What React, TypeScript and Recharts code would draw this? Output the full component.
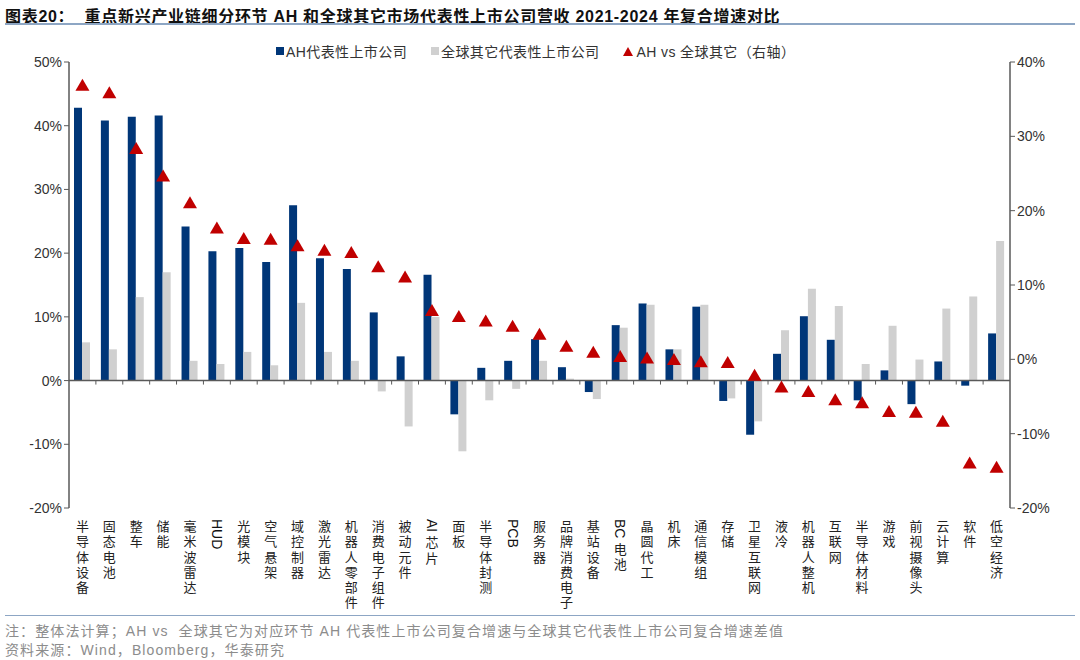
import {
  Bar,
  ComposedChart,
  ReferenceLine,
  Scatter,
  XAxis,
  YAxis,
} from "recharts";

const categories = [
  "半导体设备", "固态电池", "整车", "储能", "毫米波雷达", "HUD", "光模块", "空气悬架",
  "域控制器", "激光雷达", "机器人零部件", "消费电子组件", "被动元件", "AI芯片", "面板",
  "半导体封测", "PCB", "服务器", "品牌消费电子", "基站设备", "BC电池", "晶圆代工", "机床",
  "通信模组", "存储", "卫星互联网", "液冷", "机器人整机", "互联网", "半导体材料", "游戏",
  "前视摄像头", "云计算", "软件", "低空经济",
];

// AH 代表性上市公司 2021-2024 营收复合增速 (%)
const ahGrowth = [
  42.8, 40.8, 41.4, 41.6, 24.2, 20.3, 20.8, 18.6, 27.5, 19.2, 17.5, 10.7, 3.8, 16.6, -5.3,
  2.0, 3.1, 6.5, 2.1, -1.8, 8.7, 12.1, 4.9, 11.6, -3.2, -8.5, 4.2, 10.1, 6.4, -3.1, 1.6,
  -3.7, 3.0, -0.8, 7.4,
];

// 全球其它代表性上市公司 (%)
const globalGrowth = [
  6.0, 4.9, 13.1, 17.0, 3.1, 2.6, 4.5, 2.4, 12.2, 4.5, 3.1, -1.7, -7.2, 10.0, -11.1,
  -3.1, -1.3, 3.1, 0.3, -2.9, 8.3, 11.9, 4.9, 11.9, -2.8, -6.4, 7.9, 14.4, 11.7, 2.6, 8.6,
  3.3, 11.3, 13.2, 21.9,
];

// AH vs 全球其它 (右轴, %)
const gap = [
  36.8, 35.8, 28.3, 24.6, 21.0, 17.6, 16.2, 16.1, 15.2, 14.6, 14.3, 12.4, 11.0, 6.5, 5.7,
  5.1, 4.4, 3.3, 1.7, 0.9, 0.3, 0.1, -0.1, -0.4, -0.5, -2.2, -3.8, -4.4, -5.5, -5.9, -7.1,
  -7.2, -8.4, -14.0, -14.6,
];

const leftTicks = [-20, -10, 0, 10, 20, 30, 40, 50];
const rightTicks = [-20, -10, 0, 10, 20, 30, 40];

const data = categories.map((name, i) => ({
  name,
  ah: ahGrowth[i],
  global: globalGrowth[i],
  gap: gap[i],
}));

const NAVY = "#003678";
const GRAY = "#D0D0D0";
const RED = "#C00000";
const AXIS = "#595959";
const latin = "'Liberation Sans', Arial, 'Noto Sans CJK SC', sans-serif";
const cjk = "'Noto Sans CJK SC', 'Liberation Sans', sans-serif";

const LATIN_FONT = "14px 'Liberation Sans'";
const CHAR_STEP = 15.2;

let ctx: CanvasRenderingContext2D | null = null;
function latinWidth(s: string) {
  if (!ctx) ctx = document.createElement("canvas").getContext("2d");
  if (!ctx) return s.length * 9;
  ctx.font = LATIN_FONT;
  return ctx.measureText(s).width;
}

// vertical label: CJK stacked one per line, latin runs turned sideways
function CategoryTick({ x, y, payload }: any) {
  const parts: string[] = payload.value.match(/[A-Za-z0-9]+|./g) || [];
  let cur = y + 2;
  const out: any[] = [];
  parts.forEach((p, i) => {
    if (/^[A-Za-z0-9]+$/.test(p)) {
      out.push(
        <text
          key={i}
          x={0}
          y={0}
          transform={`translate(${x},${cur + 1}) rotate(90)`}
          dominantBaseline="central"
          fontSize={14}
          fontFamily={latin}
          fill="#111"
        >
          {p}
        </text>
      );
      cur += latinWidth(p) + 3;
    } else {
      out.push(
        <text
          key={i}
          x={x}
          y={cur + CHAR_STEP / 2}
          textAnchor="middle"
          dominantBaseline="central"
          fontSize={13}
          fontFamily={cjk}
          fill="#222"
        >
          {p}
        </text>
      );
      cur += CHAR_STEP;
    }
  });
  return <g>{out}</g>;
}

function Triangle({ cx, cy }: any) {
  if (cx == null || cy == null) return null;
  return (
    <polygon
      points={`${cx},${cy - 7} ${cx - 7},${cy + 5} ${cx + 7},${cy + 5}`}
      fill={RED}
    />
  );
}

// zero line of the left axis with the category separators hanging from it
function ZeroAxis({ x1, x2, y1 }: any) {
  const step = (x2 - x1) / categories.length;
  return (
    <g>
      <line x1={x1} x2={x2} y1={y1} y2={y1} stroke={AXIS} strokeWidth={1.5} />
      {categories.slice(1).map((_, i) => (
        <line
          key={i}
          x1={x1 + step * (i + 1)}
          x2={x1 + step * (i + 1)}
          y1={y1}
          y2={y1 + 4}
          stroke={AXIS}
          strokeWidth={1}
        />
      ))}
    </g>
  );
}

export default function App() {
  return (
    <div style={{ position: "relative", width: 1080, height: 660, background: "#fff" }}>
      <style>{`body{margin:0}`}</style>
      <div
        style={{
          position: "absolute",
          left: 5,
          top: 3,
          fontFamily: latin,
          fontWeight: 700,
          fontSize: 16,
          letterSpacing: 0.7,
          color: "#111",
          whiteSpace: "pre",
        }}
      >
        {"图表20：  重点新兴产业链细分环节 AH 和全球其它市场代表性上市公司营收 2021-2024 年复合增速对比"}
      </div>
      <div
        style={{
          position: "absolute",
          left: 5,
          top: 23,
          width: 1070,
          height: 2,
          background: "#8DA6C4",
        }}
      />

      <div
        style={{
          position: "absolute",
          top: 41,
          left: 276,
          display: "flex",
          gap: 24,
          fontSize: 14,
          letterSpacing: 0.4,
          fontFamily: latin,
          color: "#333",
        }}
      >
        <span style={{ display: "flex", alignItems: "center" }}>
          <span style={{ width: 8, height: 8, background: NAVY, marginRight: 2 }} />
          AH代表性上市公司
        </span>
        <span style={{ display: "flex", alignItems: "center" }}>
          <span style={{ width: 8, height: 8, background: GRAY, marginRight: 2 }} />
          全球其它代表性上市公司
        </span>
        <span style={{ display: "flex", alignItems: "center" }}>
          <svg width={10} height={9} style={{ marginRight: 3 }}>
            <polygon points="5,0 0,9 10,9" fill={RED} />
          </svg>
          {"AH vs 全球其它（右轴）"}
        </span>
      </div>

      <div style={{ position: "absolute", left: 0, top: 0 }}>
        <ComposedChart
          width={1080}
          height={610}
          data={data}
          margin={{ top: 62, right: 8, bottom: 0, left: 8 }}
          barGap={0}
        >
          <XAxis
            dataKey="name"
            interval={0}
            height={102}
            axisLine={false}
            tickLine={false}
            tick={<CategoryTick />}
          />
          <YAxis
            yAxisId="left"
            domain={[-20, 50]}
            ticks={leftTicks}
            width={61}
            tickFormatter={(v) => `${v}%`}
            tick={{ fill: "#333", fontSize: 14, fontFamily: latin }}
            axisLine={{ stroke: AXIS, strokeWidth: 1.5 }}
            tickLine={{ stroke: AXIS }}
            tickSize={5}
          />
          <YAxis
            yAxisId="right"
            orientation="right"
            domain={[-20, 40]}
            ticks={rightTicks}
            width={62}
            tickFormatter={(v) => `${v}%`}
            tick={{ fill: "#333", fontSize: 14, fontFamily: latin }}
            axisLine={{ stroke: AXIS, strokeWidth: 1.5 }}
            tickLine={{ stroke: AXIS }}
            tickSize={5}
          />
          <Bar yAxisId="left" dataKey="ah" fill={NAVY} barSize={8} isAnimationActive={false} />
          <Bar yAxisId="left" dataKey="global" fill={GRAY} barSize={8} isAnimationActive={false} />
          <ReferenceLine yAxisId="left" y={0} shape={<ZeroAxis />} />
          <Scatter
            yAxisId="right"
            dataKey="gap"
            fill={RED}
            shape={<Triangle />}
            isAnimationActive={false}
          />
        </ComposedChart>
      </div>

      <div
        style={{
          position: "absolute",
          left: 5,
          top: 615,
          width: 1070,
          height: 1,
          background: "#8DA6C4",
        }}
      />
      <div
        style={{
          position: "absolute",
          left: 5,
          top: 622,
          fontSize: 14,
          letterSpacing: 1.1,
          lineHeight: "19px",
          fontFamily: latin,
          color: "#8C8C8C",
          whiteSpace: "pre",
        }}
      >
        <div>{"注：整体法计算；AH vs  全球其它为对应环节 AH 代表性上市公司复合增速与全球其它代表性上市公司复合增速差值"}</div>
        <div>{"资料来源：Wind，Bloomberg，华泰研究"}</div>
      </div>
    </div>
  );
}
